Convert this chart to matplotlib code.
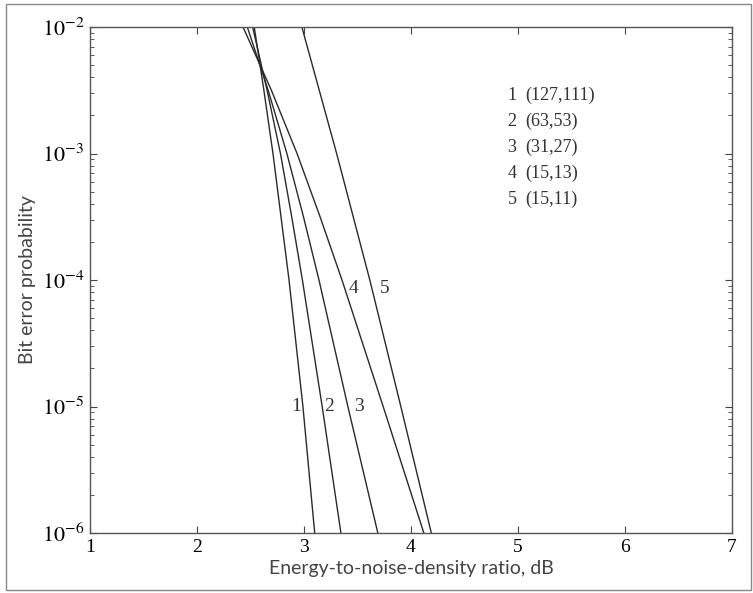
import matplotlib
matplotlib.use("Agg")
import matplotlib.pyplot as plt
from matplotlib.patches import Rectangle

plt.rcParams['mathtext.fontset'] = 'stix'
plt.rcParams['font.family'] = ['Liberation Serif', 'DejaVu Serif']

# Curve data (Eb/N0 in dB, bit error probability)
x1 = [2.535, 2.625, 2.71, 2.86, 2.99, 3.10]
y1 = [1e-2, 10**-2.5, 1e-3, 1e-4, 1e-5, 1e-6]
x2 = [2.52, 2.655, 2.78, 2.885, 2.985, 3.17, 3.345]
y2 = [1e-2, 10**-2.5, 1e-3, 10**-3.5, 1e-4, 1e-5, 1e-6]
x3 = [2.47, 2.665, 2.84, 2.995, 3.14, 3.41, 3.69]
y3 = [1e-2, 10**-2.5, 1e-3, 10**-3.5, 1e-4, 1e-5, 1e-6]
x4 = [2.43, 2.695, 2.935, 3.15, 3.355, 3.74, 4.12]
y4 = [1e-2, 10**-2.5, 1e-3, 10**-3.5, 1e-4, 1e-5, 1e-6]
x5 = [2.98, 3.305, 3.615, 3.905, 4.19]
y5 = [1e-2, 1e-3, 1e-4, 1e-5, 1e-6]

curve_ids = ["1", "2", "3", "4", "5"]
codes = ["(127,111)", "(63,53)", "(31,27)", "(15,13)", "(15,11)"]
label_x = [2.93, 3.23, 3.51, 3.46, 3.75]
label_y = [1e-5, 1e-5, 1e-5, 10**-4.07, 10**-4.07]

xticks = [1, 2, 3, 4, 5, 6, 7]
yticks = [1e-6, 1e-5, 1e-4, 1e-3, 1e-2]
yticklabels = [r"$10^{-6}$", r"$10^{-5}$", r"$10^{-4}$", r"$10^{-3}$", r"$10^{-2}$"]

fig = plt.figure(figsize=(7.53, 5.93), dpi=100)
ax = fig.add_axes([90/753, 1-533/593, (732-90)/753, (533-27)/593])

lc = '#2a2a2a'
for xs, ys in [(x1, y1), (x2, y2), (x3, y3), (x4, y4), (x5, y5)]:
    ax.plot(xs, ys, color=lc, lw=1.0)

ax.set_yscale('log')
ax.set_xlim(1, 7)
ax.set_ylim(1e-6, 1e-2)
ax.set_xticks(xticks)
ax.set_xticklabels([str(t) for t in xticks], fontsize=14)
ax.set_yticks(yticks)
ax.set_yticklabels(yticklabels, fontsize=16)
ax.tick_params(which='both', direction='in', top=True, right=True, color='#444444')
ax.tick_params(which='major', length=5, pad=4)
ax.tick_params(which='minor', length=3)
ax.tick_params(axis='x', which='minor', bottom=False, top=False)
for s in ax.spines.values():
    s.set_color('#555555')
    s.set_linewidth(1.0)

for cid, lx, ly in zip(curve_ids, label_x, label_y):
    ax.text(lx, ly, cid, fontsize=14, ha='center', va='center', color='#333333')

leg_y = [95, 121, 147, 173, 199]
for cid, code, py in zip(curve_ids, codes, leg_y):
    fig.text(512/753, 1-py/593, cid, fontsize=13, ha='center', va='center', color='#333333')
    fig.text(525/753, 1-py/593, code, fontsize=13, ha='left', va='center', color='#333333')

ax.set_xlabel("Energy-to-noise-density ratio, dB", fontsize=14, family=['Lato', 'DejaVu Sans'],
              color='#444444', labelpad=3)
ax.set_ylabel("Bit error probability", fontsize=14, family=['Lato', 'DejaVu Sans'],
              color='#444444', labelpad=4)

fig.patches.append(Rectangle((6/753, 3/593), 745/753, 586/593, transform=fig.transFigure,
                             fill=False, edgecolor='#888888', lw=1.0))

fig.savefig("out.png", dpi=100)
